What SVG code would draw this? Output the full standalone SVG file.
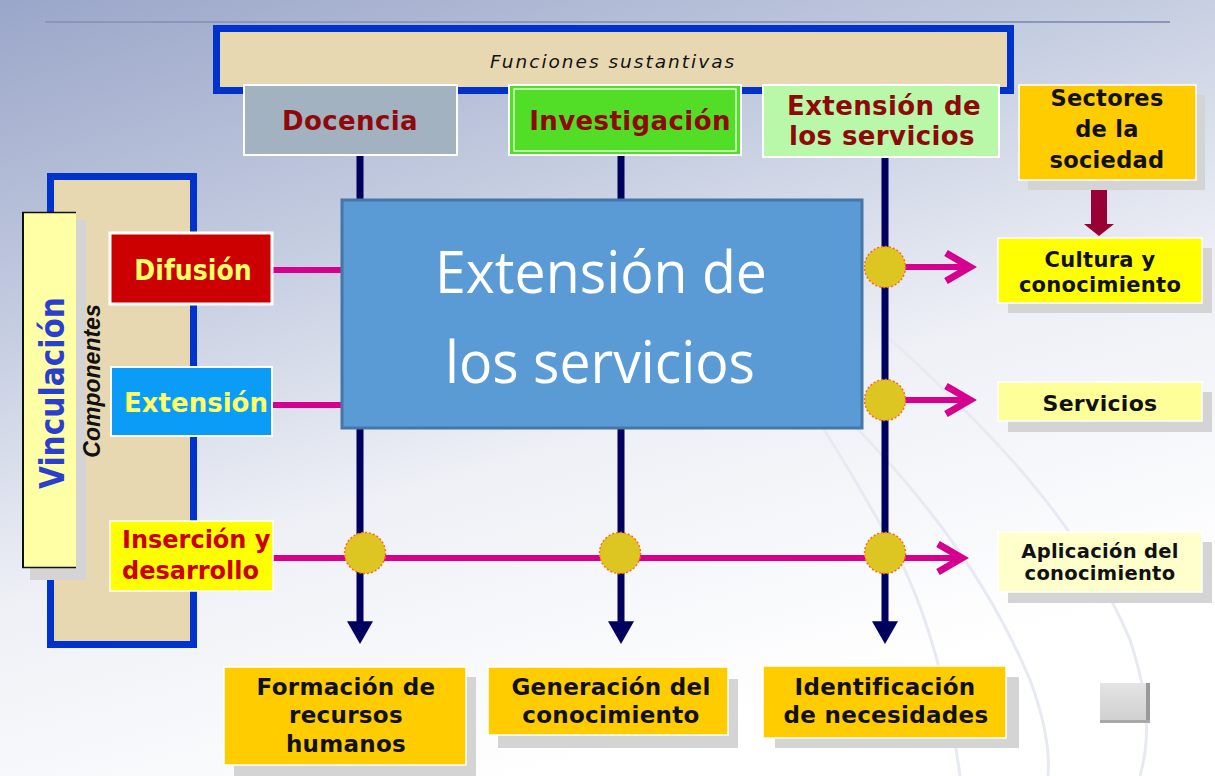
<svg xmlns="http://www.w3.org/2000/svg" width="1215" height="776" viewBox="0 0 1215 776">
<defs>
  <linearGradient id="bg" x1="0" y1="0" x2="0.45" y2="1">
    <stop offset="0" stop-color="#9aa6c9"/>
    <stop offset="0.35" stop-color="#c4cce0"/>
    <stop offset="0.65" stop-color="#eef0f6"/>
    <stop offset="1" stop-color="#ffffff"/>
  </linearGradient>
  <linearGradient id="btn" x1="0" y1="0" x2="0" y2="1">
    <stop offset="0" stop-color="#e4e4e4"/>
    <stop offset="1" stop-color="#cfcfcf"/>
  </linearGradient>
  <marker id="navyHead" markerUnits="userSpaceOnUse" markerWidth="24" markerHeight="26" viewBox="0 0 22 24" refX="8" refY="12" orient="auto">
    <path d="M0,0 L21,12 L0,24 Z" fill="#00005e"/>
  </marker>
  <marker id="pinkHead" markerUnits="userSpaceOnUse" markerWidth="40" markerHeight="40" viewBox="-6 -6 40 40" refX="26" refY="15" orient="auto">
    <path d="M2,1 L26,15 L2,29" fill="none" stroke="#d6008f" stroke-width="7" stroke-linejoin="miter"/>
  </marker>
  <style>
    .hdr { font-family: "DejaVu Sans", Verdana, sans-serif; font-weight: bold; font-size: 26px; fill: #8e0a0a; letter-spacing: 0.4px; text-anchor: middle; }
    .blk { font-family: "DejaVu Sans", Verdana, sans-serif; font-weight: bold; fill: #111; letter-spacing: 0.3px; text-anchor: middle; }
    .frame { fill: #e8d8b2; stroke: #0033cc; stroke-width: 7; }
    .shadow { fill: #d4d4d4; }
    .wb { stroke: #ffffff; stroke-width: 2; }
    .vline { stroke: #00005e; stroke-width: 7; fill: none; marker-end: url(#navyHead); }
    .pline { stroke: #d6008f; stroke-width: 6; fill: none; }
    .parrow { marker-end: url(#pinkHead); }
    .dot { fill: #ddc622; stroke: #ff6a1a; stroke-width: 1.5; stroke-dasharray: 2 2; }
    .wm { fill: none; stroke: #e7eaf2; stroke-width: 3; }
  </style>
</defs>

<!-- background -->
<rect x="0" y="0" width="1215" height="776" fill="url(#bg)"/>
<g id="watermark">
  <path class="wm" d="M880,330 C980,420 1080,520 1130,640 C1150,700 1150,740 1140,776"/>
  <path class="wm" d="M820,390 C900,470 980,560 1030,680 C1045,720 1050,750 1048,776"/>
  <path class="wm" d="M700,250 C760,330 830,430 900,560 C930,620 950,700 960,776"/>
</g>
<line x1="45" y1="22" x2="1170" y2="22" stroke="#8a97b8" stroke-width="2"/>

<!-- frames -->
<g id="vinculacion-frame">
  <rect class="frame" x="50.5" y="176.5" width="143" height="468"/>
</g>
<g id="funciones-sustantivas">
  <rect class="frame" x="216.5" y="28.5" width="794" height="62"/>
  <text x="613" y="68" font-family="'DejaVu Sans', sans-serif" font-style="italic" font-size="18.5" letter-spacing="2" fill="#111" text-anchor="middle">Funciones sustantivas</text>
</g>

<!-- connectors -->
<g id="connectors">
  <line class="vline" x1="360" y1="155" x2="360" y2="630"/>
  <line class="vline" x1="621" y1="155" x2="621" y2="630"/>
  <line class="vline" x1="885" y1="157" x2="885" y2="630"/>
  <line class="pline" x1="273" y1="270" x2="345" y2="270"/>
  <line class="pline" x1="273" y1="405" x2="345" y2="405"/>
  <line class="pline parrow" x1="273" y1="558" x2="962" y2="558"/>
  <line class="pline parrow" x1="885" y1="267" x2="970" y2="267"/>
  <line class="pline parrow" x1="885" y1="400" x2="970" y2="400"/>
  <path d="M1091,188 H1107 V224 H1114 L1099,236 L1084,224 H1091 Z" fill="#990033"/>
</g>

<!-- central box -->
<g id="extension-servicios-central">
  <rect x="342" y="200" width="520" height="228" fill="#5b9bd5" stroke="#4576a8" stroke-width="3"/>
  <text x="601" y="293" font-family="'Open Sans', 'Liberation Sans', sans-serif" font-size="58" fill="#ffffff" text-anchor="middle" textLength="332" lengthAdjust="spacingAndGlyphs">Extensión de</text>
  <text x="600" y="383" font-family="'Open Sans', 'Liberation Sans', sans-serif" font-size="58" fill="#ffffff" text-anchor="middle" textLength="310" lengthAdjust="spacingAndGlyphs">los servicios</text>
</g>

<!-- junction circles -->
<g id="junctions">
  <circle class="dot" cx="885" cy="267" r="20.5"/>
  <circle class="dot" cx="885" cy="400" r="20.5"/>
  <circle class="dot" cx="365" cy="553" r="20.5"/>
  <circle class="dot" cx="620" cy="553" r="20.5"/>
  <circle class="dot" cx="885" cy="553" r="20.5"/>
</g>

<!-- header nodes -->
<g id="docencia">
  <rect class="wb" x="244" y="85" width="213" height="70" fill="#a3b2c1"/>
  <text class="hdr" x="350" y="130">Docencia</text>
</g>
<g id="investigacion">
  <rect class="wb" x="509" y="85" width="232" height="70" fill="#52dd27"/>
  <rect x="514" y="89" width="222" height="62" fill="none" stroke="#ffffff" stroke-width="1.2"/>
  <text class="hdr" x="630" y="130">Investigación</text>
</g>
<g id="extension-de-los-servicios">
  <rect class="wb" x="763" y="85" width="236" height="72" fill="#b8f8a8"/>
  <text class="hdr" x="884" y="115">Extensión de</text>
  <text class="hdr" x="882" y="145">los servicios</text>
</g>
<g id="sectores-sociedad">
  <rect class="shadow" x="1028" y="95" width="177" height="95"/>
  <rect x="1019" y="85" width="177" height="95" fill="#ffcc00" stroke="#ffffff" stroke-width="1.5"/>
  <text class="blk" x="1107" y="106" font-size="22.5">Sectores</text>
  <text class="blk" x="1107" y="137" font-size="22.5">de la</text>
  <text class="blk" x="1107" y="168" font-size="22.5">sociedad</text>
</g>

<!-- right outputs -->
<g id="cultura-conocimiento">
  <rect class="shadow" x="1008" y="248" width="204" height="65"/>
  <rect x="998" y="238" width="204" height="65" fill="#ffff00" stroke="#ffffff" stroke-width="1.5"/>
  <text class="blk" x="1100" y="267" font-size="21">Cultura y</text>
  <text class="blk" x="1100" y="292" font-size="21">conocimiento</text>
</g>
<g id="servicios">
  <rect class="shadow" x="1008" y="392" width="204" height="40"/>
  <rect x="998" y="382" width="204" height="39" fill="#ffff99" stroke="#ffffff" stroke-width="1.5"/>
  <text class="blk" x="1100" y="411" font-size="22">Servicios</text>
</g>
<g id="aplicacion-conocimiento">
  <rect class="shadow" x="1008" y="542" width="204" height="61"/>
  <rect x="998" y="532" width="204" height="60" fill="#ffffcc" stroke="#ffffff" stroke-width="1.5"/>
  <text class="blk" x="1100" y="558" font-size="19.5">Aplicación del</text>
  <text class="blk" x="1100" y="580" font-size="19.5">conocimiento</text>
</g>

<!-- left components -->
<g id="vinculacion">
  <rect class="shadow" x="30" y="220" width="56" height="360"/>
  <rect x="22" y="212" width="54" height="356" fill="#ffffa6"/>
  <line x1="23" y1="212" x2="23" y2="568" stroke="#111" stroke-width="2"/>
  <line x1="22" y1="212.5" x2="76" y2="212.5" stroke="#111" stroke-width="1.5"/>
  <line x1="22" y1="567.5" x2="76" y2="567.5" stroke="#111" stroke-width="1.5"/>
  <text transform="translate(64,393) rotate(-90)" font-family="'DejaVu Sans Condensed', 'DejaVu Sans', sans-serif" font-weight="bold" font-size="33" fill="#2a3fcf" text-anchor="middle">Vinculación</text>
</g>
<g id="componentes">
  <text transform="translate(100,381) rotate(-90)" font-family="'Liberation Sans', Arial, sans-serif" font-weight="bold" font-style="italic" font-size="23" fill="#111" text-anchor="middle">Componentes</text>
</g>
<g id="difusion">
  <rect x="110" y="233" width="162" height="71" fill="#cc0000" stroke="#ffffff" stroke-width="3"/>
  <text x="193" y="280" font-family="'DejaVu Sans Condensed', 'DejaVu Sans', sans-serif" font-weight="bold" font-size="28" fill="#ffff66" text-anchor="middle">Difusión</text>
</g>
<g id="extension">
  <rect x="111" y="367" width="161" height="69" fill="#0a9cf7" stroke="#ffffff" stroke-width="2"/>
  <text x="196" y="412" font-family="'DejaVu Sans', sans-serif" font-weight="bold" font-size="26" fill="#ffff66" text-anchor="middle">Extensión</text>
</g>
<g id="insercion-desarrollo">
  <rect x="110" y="521" width="163" height="70" fill="#ffff00" stroke="#ffffff" stroke-width="1.5"/>
  <text x="122" y="548" font-family="'DejaVu Sans', sans-serif" font-weight="bold" font-size="24" fill="#cc0000">Inserción y</text>
  <text x="122" y="579" font-family="'DejaVu Sans', sans-serif" font-weight="bold" font-size="24" fill="#cc0000">desarrollo</text>
</g>

<!-- bottom outputs -->
<g id="formacion-recursos">
  <rect class="shadow" x="234" y="677" width="242" height="99"/>
  <rect x="224" y="667" width="242" height="98" fill="#ffcc00" stroke="#ffffff" stroke-width="1.5"/>
  <text class="blk" x="346" y="695" font-size="23">Formación de</text>
  <text class="blk" x="346" y="723" font-size="23">recursos</text>
  <text class="blk" x="346" y="752" font-size="23">humanos</text>
</g>
<g id="generacion-conocimiento">
  <rect class="shadow" x="498" y="679" width="240" height="69"/>
  <rect x="488" y="667" width="240" height="68" fill="#ffcc00" stroke="#ffffff" stroke-width="1.5"/>
  <text class="blk" x="611" y="695" font-size="23">Generación del</text>
  <text class="blk" x="611" y="723" font-size="23">conocimiento</text>
</g>
<g id="identificacion-necesidades">
  <rect class="shadow" x="775" y="677" width="244" height="71"/>
  <rect x="763" y="666" width="243" height="72" fill="#ffcc00" stroke="#ffffff" stroke-width="1.5"/>
  <text class="blk" x="885" y="695" font-size="23">Identificación</text>
  <text class="blk" x="886" y="723" font-size="23">de necesidades</text>
</g>

<!-- small button -->
<g id="boton">
  <rect x="1100" y="683" width="50" height="40" fill="url(#btn)"/>
  <rect x="1146" y="683" width="4" height="40" fill="#9a9a9a"/>
  <rect x="1100" y="720" width="50" height="3" fill="#a8a8a8"/>
</g>
</svg>
